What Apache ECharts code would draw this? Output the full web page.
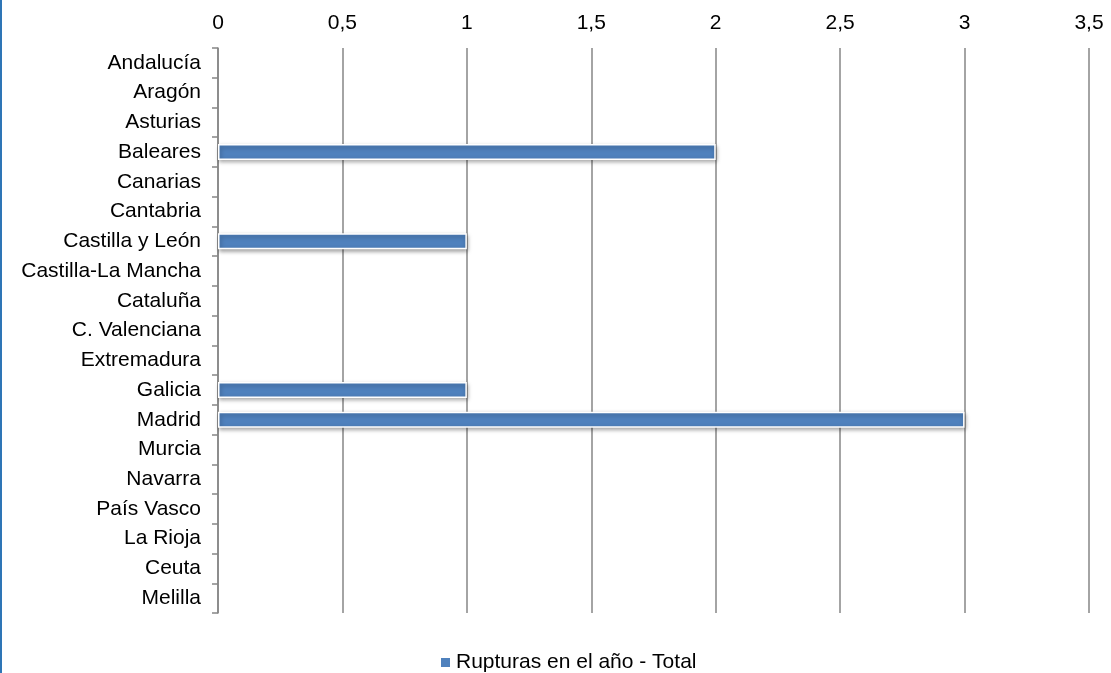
<!DOCTYPE html>
<html><head><meta charset="utf-8">
<script src="https://cdn.jsdelivr.net/npm/echarts@6/dist/echarts.min.js"></script>
<style>html,body{margin:0;padding:0;background:#fff}#c{width:1111px;height:673px}</style>
</head><body><div id="c"></div>
<script>
const categories = ["Andalucía","Aragón","Asturias","Baleares","Canarias","Cantabria","Castilla y León","Castilla-La Mancha","Cataluña","C. Valenciana","Extremadura","Galicia","Madrid","Murcia","Navarra","País Vasco","La Rioja","Ceuta","Melilla"];
const values = [0,0,0,2,0,0,1,0,0,0,0,1,3,0,0,0,0,0,0];
const seriesName = "Rupturas en el año - Total";
const chart = echarts.init(document.getElementById('c'), null, {renderer:'canvas'});
const font = '"Liberation Sans", Arial, sans-serif';
const FS = 21;
chart.setOption({
  animation:false,
  textStyle:{fontFamily:font},
  graphic:[{type:'rect', shape:{x:0,y:0,width:2,height:673}, style:{fill:'#2e75b6'}}],
  grid:{left:218, right:22, top:48, bottom:60, containLabel:false},
  xAxis:{type:'value', position:'top', min:0, max:3.5, interval:0.5,
    axisLine:{show:false}, axisTick:{show:false},
    axisLabel:{fontSize:FS, color:'#000', margin:14, fontFamily:font,
      formatter:v=>String(v).replace('.',',')},
    splitLine:{show:true, lineStyle:{color:'#868686', width:1.5}}},
  yAxis:{type:'category', inverse:true, data:categories,
    axisLine:{show:true, lineStyle:{color:'#868686', width:1.5}},
    axisTick:{show:true, length:6, alignWithLabel:false, lineStyle:{color:'#868686', width:1.5}},
    axisLabel:{fontSize:FS, color:'#000', margin:17, fontFamily:font}},
  legend:{bottom:-5, left:434, itemWidth:11, itemHeight:11, itemGap:6,
    icon:'rect', textStyle:{fontSize:FS, color:'#000', fontFamily:font}, data:[seriesName]},
  series:[{type:'bar', name:seriesName, barWidth:16,
    data:values.map(v => v === 0 ? {value:v, itemStyle:{borderWidth:0, shadowBlur:0, shadowOffsetX:0, shadowOffsetY:0}} : v),
    itemStyle:{color:'#4f81bd', borderColor:'#fff', borderWidth:1.5,
      shadowColor:'rgba(0,0,0,0.35)', shadowBlur:4, shadowOffsetY:2, shadowOffsetX:1}}]
});
</script></body></html>
